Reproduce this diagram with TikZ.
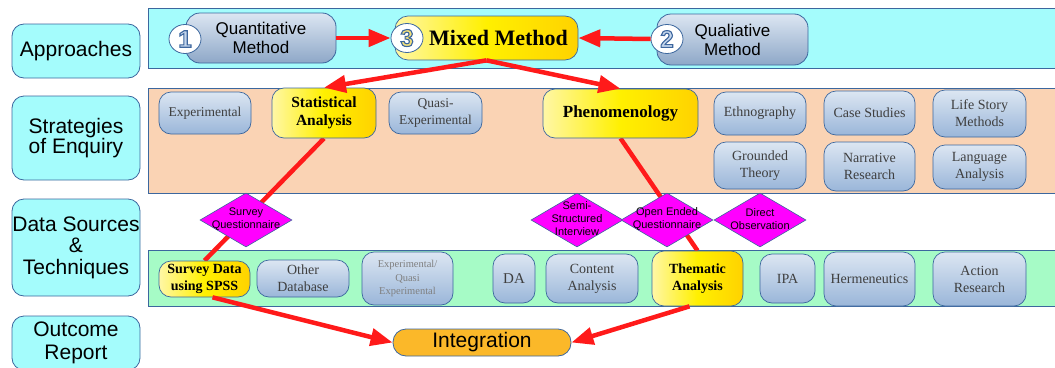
\documentclass[tikz,border=0pt]{standalone}
\usepackage{fontspec}
\setmainfont{Liberation Serif}
\setsansfont{Liberation Sans}
\usetikzlibrary{shapes.geometric,arrows.meta}

\definecolor{cyanfill}{HTML}{A4FCFC}
\definecolor{peach}{HTML}{FAD3B4}
\definecolor{mint}{HTML}{A6FBC6}
\definecolor{edgeblue}{HTML}{3C679E}
\definecolor{boxtop}{HTML}{DCE6F2}
\definecolor{boxbot}{HTML}{9AB6D9}
\definecolor{ylight}{HTML}{FFF7A6}
\definecolor{ymid}{HTML}{FFF000}
\definecolor{ygold}{HTML}{FFD200}
\definecolor{arrowred}{HTML}{FF1A1A}
\definecolor{magentafill}{HTML}{FF00FF}
\definecolor{integfill}{HTML}{FBB829}
\definecolor{greytext}{HTML}{3F3F3F}
\definecolor{paletext}{HTML}{7F7F7F}
\definecolor{numblue}{HTML}{C3D5EC}
\definecolor{numgold}{HTML}{F3E07A}

% hollow-looking step digits: filled glyph with a blue stroke
\newcommand{\stepdigit}[2]{\textcolor{#1}{\special{pdf:literal 0.24 0.40 0.62 RG 1.1 w 2 Tr}#2\special{pdf:literal 0 Tr}}}

\pgfdeclarelayer{bands}
\pgfdeclarelayer{links}
\pgfsetlayers{bands,links,main}

\tikzset{
  band/.style={draw=edgeblue, line width=0.8pt},
  rowlabel/.style={draw=edgeblue, line width=0.8pt, fill=cyanfill, rounded corners=12pt,
    minimum width=128pt, align=center, inner sep=0pt,
    font=\sffamily\fontsize{21}{19.5}\selectfont},
  approachbox/.style={draw=edgeblue, line width=0.8pt, rounded corners=14pt,
    top color=boxtop, bottom color=boxbot!92!black, align=center, inner sep=0pt,
    font=\sffamily\fontsize{17}{19}\selectfont},
  bluebox/.style={draw=edgeblue, line width=0.7pt, rounded corners=12pt,
    top color=boxtop, bottom color=boxbot, align=center, inner sep=0pt,
    text=greytext, font=\fontsize{14}{17}\selectfont},
  goldbox/.style={draw=edgeblue, line width=0.7pt, rounded corners=12pt,
    left color=ylight, right color=ygold, middle color=ymid, align=center, inner sep=0pt,
    font=\bfseries\fontsize{14}{16.5}\selectfont},
  numcircle/.style={ellipse, draw=edgeblue, line width=0.8pt, fill=white,
    minimum width=32pt, minimum height=29pt, inner sep=0pt,
    font=\sffamily\bfseries\fontsize{24}{24}\selectfont},
  diam/.style={diamond, draw=edgeblue, line width=0.6pt, fill=magentafill,
    minimum width=92pt, minimum height=54pt, inner sep=0pt},
  dtext/.style={align=center, inner sep=0pt, font=\sffamily\fontsize{11}{13}\selectfont},
  redline/.style={draw=arrowred, line width=4.5pt},
  redarrow/.style={redline, -{Triangle[length=22pt,width=17pt]}},
}

\begin{document}
\begin{tikzpicture}[x=1pt,y=-1pt]
\useasboundingbox (0,0) rectangle (1055,367);

% horizontal bands
\begin{pgfonlayer}{bands}
  \draw[band, fill=cyanfill] (148,8) rectangle (1060,68);
  \draw[band, fill=peach] (148,88) rectangle (1060,193);
  \draw[band, fill=mint] (148,250) rectangle (1060,306);
\end{pgfonlayer}

% row labels
\node[rowlabel, minimum height=54pt] (lapp) at (76,51) {Approaches};
\node[rowlabel, minimum height=84pt, font=\sffamily\fontsize{21}{19}\selectfont] (lstr) at (76,138) {Strategies\\of Enquiry};
\node[rowlabel, minimum height=97pt, font=\sffamily\fontsize{21}{21.5}\selectfont] (ldat) at (76,247.5) {Data Sources\\\&\\Techniques};
\node[rowlabel, minimum height=54pt, font=\sffamily\fontsize{21}{23.5}\selectfont] (lout) at (76,343) {Outcome\\Report};

% approaches
\node[approachbox, minimum width=150pt, minimum height=50pt] (quant) at (261,38) {Quantitative\\Method};
\node[goldbox, minimum width=183pt, minimum height=44pt, rounded corners=13pt,
      font=\bfseries\fontsize{22}{24}\selectfont] (mixed) at (486.5,38) {\hspace*{24pt}Mixed Method};
\node[approachbox, minimum width=151pt, minimum height=51pt] (qual) at (732.5,39.5) {Qualiative\\Method};
\node[numcircle] (n1) at (185,39) {\stepdigit{numblue}{1}};
\node[numcircle] (n3) at (407,38) {\stepdigit{numgold}{3}};
\node[numcircle] (n2) at (667,39) {\stepdigit{numblue}{2}};

% strategies of enquiry
\node[bluebox, minimum width=92pt, minimum height=42pt, font=\fontsize{13.5}{16.5}\selectfont] (exper) at (205,113) {Experimental};
\node[goldbox, minimum width=104pt, minimum height=50pt, font=\bfseries\fontsize{15.5}{17.5}\selectfont] (stat) at (324,113) {Statistical\\Analysis};
\node[bluebox, minimum width=93pt, minimum height=42pt, font=\fontsize{13.5}{16.5}\selectfont] (quasi) at (435.5,113) {Quasi-\\Experimental};
\node[goldbox, minimum width=155pt, minimum height=49pt, font=\bfseries\fontsize{17}{19}\selectfont] (phen) at (620.5,113.5) {Phenomenology};
\node[bluebox, minimum width=92pt, minimum height=43pt] (ethno) at (760,113.5) {Ethnography};
\node[bluebox, minimum width=91pt, minimum height=44pt] (cases) at (869.5,113) {Case Studies};
\node[bluebox, minimum width=93pt, minimum height=47pt] (life) at (979.5,113.5) {Life Story\\Methods};
\node[bluebox, minimum width=92pt, minimum height=47pt] (grounded) at (760,165.5) {Grounded\\Theory};
\node[bluebox, minimum width=91pt, minimum height=49pt] (narr) at (869.5,166.5) {Narrative\\Research};
\node[bluebox, minimum width=93pt, minimum height=44pt] (lang) at (979.5,167) {Language\\Analysis};

% data sources and techniques
\node[goldbox, minimum width=91pt, minimum height=36pt] (spss) at (204.5,279) {Survey Data\\using SPSS};
\node[bluebox, minimum width=92pt, minimum height=37pt] (otherdb) at (303,278.5) {Other\\Database};
\node[bluebox, minimum width=91pt, minimum height=53pt, text=paletext, font=\fontsize{10.5}{13.8}\selectfont] (expq) at (407.5,278.5) {Experimental/\\Quasi\\Experimental};
\node[bluebox, minimum width=42pt, minimum height=49pt, font=\fontsize{15}{17}\selectfont] (da) at (514,278.5) {DA};
\node[bluebox, minimum width=92pt, minimum height=49pt] (content) at (592,278.5) {Content\\Analysis};
\node[goldbox, minimum width=91pt, minimum height=55pt] (thematic) at (697.5,278.5) {Thematic\\Analysis};
\node[bluebox, minimum width=55pt, minimum height=49pt] (ipa) at (787.5,278.5) {IPA};
\node[bluebox, minimum width=91pt, minimum height=54pt] (herm) at (869.5,279) {Hermeneutics};
\node[bluebox, minimum width=93pt, minimum height=54pt] (action) at (979.5,279) {Action\\Research};

% outcome
\node[draw=edgeblue, line width=0.8pt, fill=integfill, rounded corners=13pt,
      minimum width=178pt, minimum height=27pt, inner sep=0pt,
      font=\sffamily\fontsize{21}{24}\selectfont] (integ) at (482,342.5) {Integration};

% links that run underneath the technique diamonds
\begin{pgfonlayer}{links}
  \draw[redline] (stat.south) -- (spss.north);
  \draw[redline] (phen.south) -- (thematic.north);
\end{pgfonlayer}

% data collection techniques
\node[diam] (survq) at (246,220) {};
\node[dtext] (survqt) at (246,219) {Survey\\Questionnaire};
\node[diam] (semi) at (577,220) {};
\node[dtext] (semit) at (577,219) {Semi-\\Structured\\Interview};
\node[diam] (openq) at (667,220) {};
\node[dtext] (openqt) at (667,219) {Open Ended\\Questionnaire};
\node[diam] (direct) at (760,220) {};
\node[dtext] (directt) at (760,219) {Direct\\Observation};

% arrows
\draw[redarrow] (quant.east) -- (n3.west);
\draw[redarrow] (n2.west) -- (mixed.east);
\draw[redarrow] (mixed.south) -- (stat.north);
\draw[redarrow] (mixed.south) -- (phen.north);
\draw[redarrow] ([xshift=8pt]spss.south) -- (integ.west);
\draw[redarrow] ([xshift=-8pt]thematic.south) -- (integ.east);
\end{tikzpicture}
\end{document}
